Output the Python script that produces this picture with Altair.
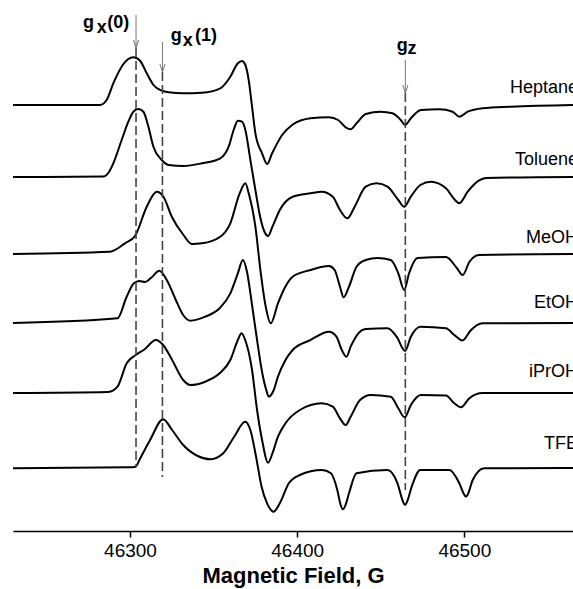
import altair as alt
import pandas as pd

# ---------------- data ----------------
FIELD_DOMAIN = [46230, 46565]
Y_DOMAIN = [0, 531]

solvents = ["Heptane", "Toluene", "MeOH", "EtOH", "iPrOH", "TFE"]
offsets = [426, 354, 277, 208, 138, 63]          # vertical offset of each spectrum (a.u.)

heptane_field = [46230, 46282, 46286, 46290, 46295, 46299, 46302, 46306, 46310, 46314, 46319, 46323,
                 46332, 46343, 46354, 46360, 46364.5, 46367, 46369, 46371, 46373, 46375, 46379, 46382,
                 46385, 46391, 46397, 46408, 46419, 46424.5, 46429, 46432, 46435.5, 46441, 46450, 46457,
                 46462, 46464.5, 46468, 46474, 46485, 46493, 46497, 46502, 46511, 46528, 46565]
heptane_int = [0, 0, 5, 21.7, 38.3, 46, 47.7, 44.3, 31.7, 20, 14.3, 12.7, 11.7, 12.3, 16.7, 28.3, 41.7,
               44, 40, 25, -1.7, -28.3, -48.3, -59, -48.3, -30, -20, -13.3, -12.3, -15, -22.3, -24.3,
               -18.3, -9, -6.7, -8.3, -15, -20, -13.3, -5, -4.3, -6.7, -11.7, -6.7, -3.3, -1.7, 0]

toluene_field = [46230, 46284, 46287, 46290, 46295, 46299, 46302, 46305, 46308, 46311, 46314, 46319, 46323,
                 46332, 46343, 46354, 46359, 46362, 46364.5, 46367, 46369, 46372, 46375, 46378, 46380.5,
                 46382.6, 46385.2, 46389.6, 46397.3, 46408, 46414.7, 46421.3, 46425.6, 46430, 46434.4,
                 46441, 46447.5, 46454, 46460.5, 46464, 46468, 46473.7, 46480, 46489, 46494.4, 46497,
                 46502, 46508.6, 46513, 46565]
toluene_int = [0, 0.5, 4, 13.7, 37, 55.3, 65.3, 68, 65.3, 50.3, 30.3, 17, 12, 11, 13.7, 18.7, 30.3, 47, 56.3,
               55.3, 47, 17, -13, -41, -55, -59, -49.7, -33, -19.7, -16.3, -14.7, -19.7, -33, -41.3,
               -29.7, -9.7, -6.3, -9.7, -23, -29.7, -19.7, -8, -4.7, -11.3, -23, -26.3, -14.7, -3.7, -1, 0]

meoh_field = [46230, 46288, 46297, 46303, 46310, 46316, 46320, 46325, 46332, 46337, 46343, 46354, 46360,
              46365.6, 46369, 46371, 46375, 46378, 46381, 46384.2, 46388.5, 46392.9, 46397.3, 46408,
              46419, 46422.4, 46425.6, 46427.8, 46431, 46435.5, 46441, 46448, 46456, 46460.5, 46464,
              46467, 46472, 46489, 46495.5, 46499, 46503, 46508.6, 46565]
meoh_int = [0, 2.3, 10.7, 18, 47.3, 62.3, 57.3, 37.3, 19, 10, 10.7, 17.3, 30.7, 60.7, 70.7, 60.7, 27.3,
            -16, -51, -69.3, -49.3, -32.7, -22.7, -16, -12, -16, -32.7, -43.3, -32.7, -12.7, -6, -4, -6,
            -19.3, -36, -19, -4, -3, -14, -21, -8, -1, 0]

etoh_field = [46230, 46292.5, 46298, 46302.3, 46305.5, 46309, 46312.5, 46317.6, 46322, 46327.4, 46331.8,
              46336, 46345, 46353.6, 46360, 46364.5, 46367.5, 46370, 46373, 46376, 46379, 46381.5, 46383,
              46386, 46388.5, 46393, 46397.3, 46408, 46419, 46423.5, 46426.7, 46429.5, 46432, 46436.6,
              46441, 46454, 46459.5, 46464.5, 46468, 46473.7, 46489, 46494, 46498.8, 46504, 46510.8, 46565]
etoh_int = [0, 4.7, 26.3, 39.7, 42, 41, 45, 52.3, 43, 23, 8, 2.3, 6.3, 14.7, 29.7, 49.7, 63, 51, 18, -17,
            -49, -67, -73.7, -67, -53.7, -37, -27, -17, -8.7, -13.7, -27, -33.7, -23.7, -10.3, -6, -5.3,
            -13.7, -28, -13.7, -3.7, -5.3, -12, -17.5, -7, -0.3, 0]

iproh_field = [46230, 46287, 46292.5, 46298, 46303.4, 46308.8, 46315.4, 46319.8, 46325.2, 46331.8, 46336,
               46345, 46353.6, 46360, 46364.5, 46366.7, 46368.9, 46373, 46376, 46379, 46382.6, 46385.2,
               46388.5, 46393, 46401.6, 46414.7, 46421.3, 46425.6, 46429, 46432, 46437.6, 46444, 46456,
               46460.5, 46464.3, 46468, 46474, 46489, 46494, 46498, 46503, 46510.8, 46565]
iproh_int = [0, 1, 6.3, 29.7, 38, 43.7, 53, 48, 33, 13, 8, 11.3, 19.7, 33, 53, 59.7, 53, 23, -17, -47,
             -69.7, -60.3, -43.7, -30.3, -17, -10.3, -13.7, -25.3, -32, -23.7, -7, -2, -3.7, -15.3, -24.3,
             -12, -2, -2.5, -10.3, -14.3, -5.3, 0, 0]

tfe_field = [46230, 46299, 46303.4, 46305.6, 46312, 46319.8, 46325.2, 46331.8, 46340.5, 46348, 46355.8,
             46362.3, 46368.9, 46372, 46375.4, 46378.7, 46382, 46385.9, 46389.6, 46395, 46401.6, 46414.7,
             46420.2, 46424, 46426.2, 46427.4, 46428.7, 46431, 46435.5, 46454, 46460, 46463.3, 46464.5,
             46465.8, 46468.5, 46473.7, 46491, 46497, 46499.7, 46500.9, 46502.2, 46505, 46511.9, 46565]
tfe_int = [-0.3, 0.7, 1.3, 8, 28, 48.7, 38, 23, 12, 8.7, 14.7, 31.3, 46.3, 38, 11.3, -18.7, -35.3, -43.7,
           -35.3, -15.3, -7, -2, -5.3, -22, -38, -41.3, -38, -25.3, -5.3, -2, -15.3, -33.5, -37,
           -33.5, -18.7, -2, -2, -15.3, -26, -28.7, -26, -12, -0.3, 0]

# right-hand solvent labels
label_field = 46568
label_value = [437.7, 366, 287.7, 222.7, 154.3, 81.7]

# g-value markers
g_field = [46303.6, 46319.4, 46464.7]
g_dash_top = [483, 459, 438]
g_dash_bottom = [64, 54, 41]
g_arrow_top = [516, 489, 471]

# annotation text pieces (g, subscript, argument)
ann_text = ["g", "x", "(0)", "g", "x", "(1)", "g", "z"]
ann_field = [46271.9, 46280.1, 46286.4, 46324.3, 46331.5, 46338.9, 46459.5, 46466.0]
ann_value = [503, 498.5, 503, 489.6, 484.8, 489.6, 479.6, 477.0]

# ---------------- build tables ----------------
fields = [heptane_field, toluene_field, meoh_field, etoh_field, iproh_field, tfe_field]
ints = [heptane_int, toluene_int, meoh_int, etoh_int, iproh_int, tfe_int]
rows = []
for name, off, fl, il in zip(solvents, offsets, fields, ints):
    for f, v in zip(fl, il):
        rows.append({"trace": name, "field": f, "value": off + v})
spectra = pd.DataFrame(rows)

labels = pd.DataFrame({"text": solvents, "field": [label_field] * 6, "value": label_value})
gdf = pd.DataFrame({"field": g_field, "value": g_dash_top, "value2": g_dash_bottom,
                    "atop": g_arrow_top, "head": [v + 4 for v in g_dash_top]})
ann = pd.DataFrame({"text": ann_text, "field": ann_field, "value": ann_value})

FONT = "Liberation Sans"

x_axis = alt.Axis(values=[46300, 46400, 46500], format="d", title="Magnetic Field, G",
                  grid=False, tickSize=6, tickWidth=1.5, tickColor="black",
                  domainColor="black", domainWidth=1.5, labelFontSize=19,
                  labelFont=FONT, labelColor="black", labelPadding=4,
                  titleFont=FONT, titleFontSize=22, titleFontWeight="bold",
                  titleColor="black", titlePadding=5)
x_scale = alt.Scale(domain=FIELD_DOMAIN, nice=False, zero=False)
y_scale = alt.Scale(domain=Y_DOMAIN, nice=False, zero=False)


def xq(name="field"):
    return alt.X(f"{name}:Q", scale=x_scale, axis=x_axis)


def yq(name):
    return alt.Y(f"{name}:Q", scale=y_scale, axis=None)


lines = alt.Chart(spectra).mark_line(
    interpolate="monotone", color="black", strokeWidth=2, strokeJoin="round"
).encode(x=xq(), y=yq("value"), detail="trace:N")

dashes = alt.Chart(gdf).mark_rule(color="#444444", strokeWidth=1.6, strokeDash=[9, 4]).encode(
    x=xq(), y=yq("value"), y2="value2:Q")

shafts = alt.Chart(gdf).mark_rule(color="#777777", strokeWidth=1).encode(
    x=xq(), y=yq("atop"), y2="value:Q")

heads = alt.Chart(gdf).mark_point(
    shape="M -0.65 -1 L 0 1 L 0.65 -1", size=64, filled=False, color="#777777", strokeWidth=1, opacity=1
).encode(x=xq(), y=yq("head"))

ann_text_layer = alt.Chart(ann).mark_text(
    font=FONT, fontSize=18, fontWeight="bold", align="left", baseline="alphabetic", color="black"
).encode(x=xq(), y=yq("value"), text="text:N")

label_layer = alt.Chart(labels).mark_text(
    font=FONT, fontSize=18, align="right", baseline="alphabetic", color="black", clip=True
).encode(x=xq(), y=yq("value"), text="text:N")

chart = alt.layer(lines, dashes, shafts, heads, ann_text_layer, label_layer).properties(
    width=560, height=531,
    autosize=alt.AutoSizeParams(type="none"),
    padding={"left": 13, "top": 0, "right": 0, "bottom": 58},
    background="white",
).configure_view(stroke=None)

chart.save("out.html", embed_options={"renderer": "svg", "actions": False})
